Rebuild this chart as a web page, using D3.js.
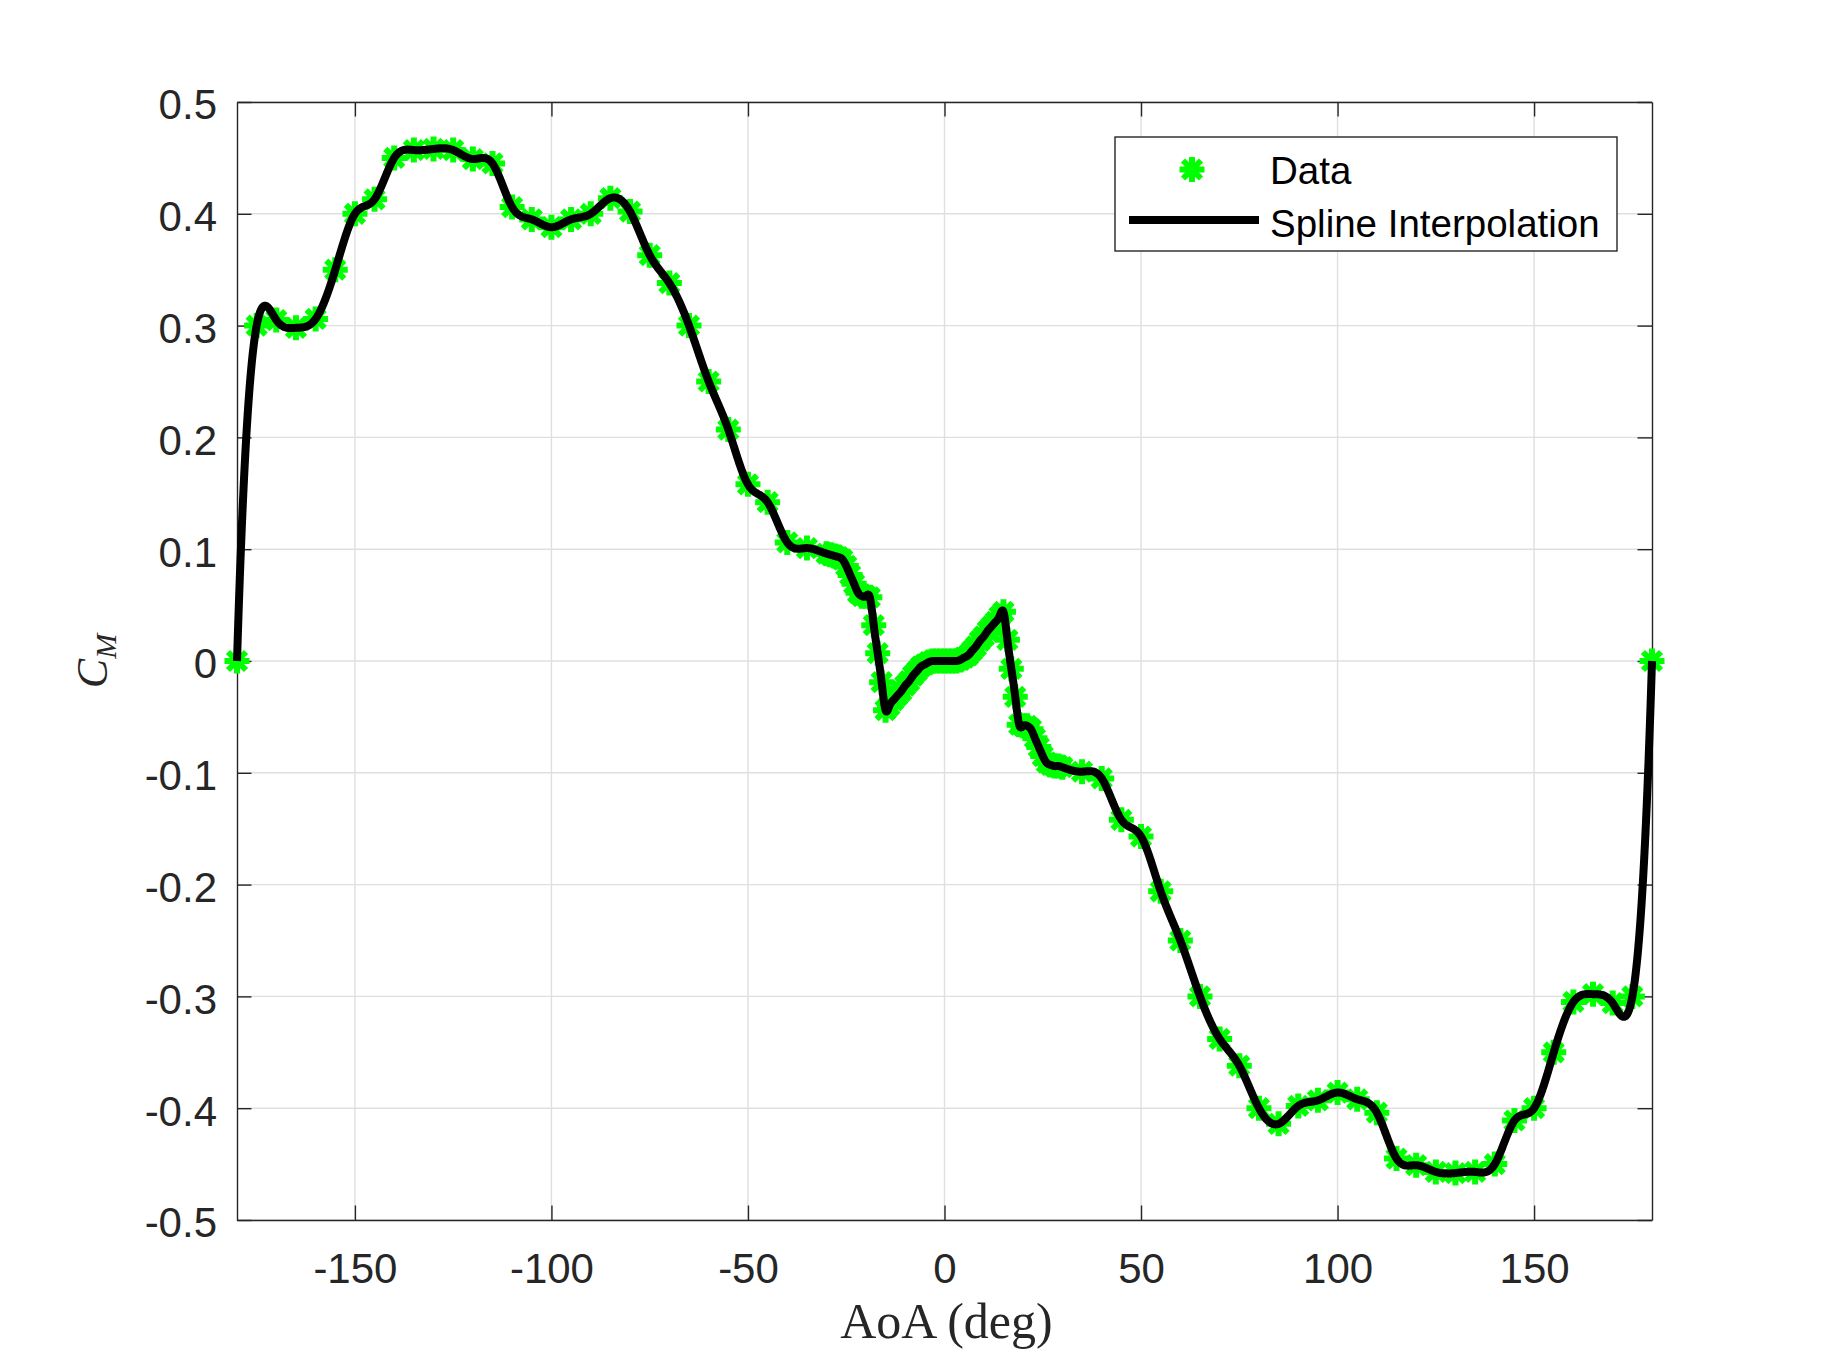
<!DOCTYPE html>
<html>
<head>
<meta charset="utf-8">
<script src="https://cdn.jsdelivr.net/npm/d3@7"></script>
<style>
  html, body { margin: 0; padding: 0; background: #fff; }
  svg { display: block; }
</style>
</head>
<body>
<div id="chart"></div>
<script>
// Pitching moment coefficient vs angle of attack (data points + spline through them)

const aoaDeg = [
  -180, -175, -170, -165, -160, -155, -150, -145, -140, -135, -130, -125, -120, -115, -110,
  -105, -100, -95, -90, -85, -80, -75, -70, -65, -60, -55, -50, -45, -40, -35,
  -30, -29, -28, -27, -26, -25, -24, -23, -22, -21, -20, -19, -18, -17, -16, -15,
  -14, -13, -12, -11, -10, -9, -8, -7, -6, -5, -4, -3, -2, -1, 0,
  1, 2, 3, 4, 5, 6, 7, 8, 9, 10, 11, 12, 13, 14, 15,
  16, 17, 18, 19, 20, 21, 22, 23, 24, 25, 26, 27, 28, 29, 30,
  35, 40, 45, 50, 55, 60, 65, 70, 75, 80, 85, 90, 95, 100, 105,
  110, 115, 120, 125, 130, 135, 140, 145, 150, 155, 160, 165, 170, 175, 180
];

const cmData = [
  0, 0.300, 0.305, 0.298, 0.306, 0.350, 0.400, 0.413, 0.450, 0.457, 0.458, 0.457, 0.449, 0.445, 0.406,
  0.395, 0.388, 0.395, 0.400, 0.414, 0.402, 0.363, 0.338, 0.300, 0.250, 0.207, 0.158, 0.142, 0.106, 0.101,
  0.096, 0.095, 0.094, 0.093, 0.091, 0.085, 0.077, 0.069, 0.061, 0.058, 0.058, 0.057, 0.032, 0.007, -0.019, -0.044,
  -0.040, -0.035, -0.031, -0.027, -0.022, -0.018, -0.013, -0.009, -0.005, -0.003, -0.001, 0.000, 0.000, 0.000, 0.000,
  0.000, 0.000, 0.000, 0.001, 0.003, 0.005, 0.009, 0.013, 0.018, 0.022, 0.027, 0.031, 0.035, 0.040, 0.044,
  0.019, -0.007, -0.032, -0.057, -0.058, -0.058, -0.061, -0.069, -0.077, -0.085, -0.091, -0.093, -0.094, -0.094, -0.095,
  -0.099, -0.105, -0.142, -0.157, -0.206, -0.250, -0.300, -0.338, -0.362, -0.400, -0.414, -0.398, -0.393, -0.386, -0.392,
  -0.404, -0.445, -0.451, -0.457, -0.458, -0.457, -0.450, -0.411, -0.400, -0.350, -0.305, -0.298, -0.306, -0.300, 0
];

const xTicks = [-150, -100, -50, 0, 50, 100, 150];
const yTicks = [-0.5, -0.4, -0.3, -0.2, -0.1, 0, 0.1, 0.2, 0.3, 0.4, 0.5];
const legendLabels = ["Data", "Spline Interpolation"];

const width = 1827;
const height = 1370;
const margin = { left: 237, right: 1827 - 1652, top: 102, bottom: 1370 - 1220 };

const axisColor = "#262626";
const gridColor = "#dfdfdf";
const green = "#00ff00";
const sansFont = "'Liberation Sans', Arial, Helvetica, sans-serif";
const serifFont = "'Liberation Serif', 'Times New Roman', serif";

// not-a-knot cubic spline (like MATLAB spline)
function buildSpline(xs, ys) {
    const n = xs.length;
    const h = d3.range(n - 1).map(i => xs[i + 1] - xs[i]);
    const A = Array.from({ length: n }, () => new Float64Array(n));
    const b = new Float64Array(n);

    A[0][0] = h[1]; A[0][1] = -(h[0] + h[1]); A[0][2] = h[0];
    for (let i = 1; i < n - 1; i++) {
        A[i][i - 1] = h[i - 1];
        A[i][i] = 2 * (h[i - 1] + h[i]);
        A[i][i + 1] = h[i];
        b[i] = 6 * ((ys[i + 1] - ys[i]) / h[i] - (ys[i] - ys[i - 1]) / h[i - 1]);
    }
    A[n - 1][n - 3] = h[n - 2]; A[n - 1][n - 2] = -(h[n - 3] + h[n - 2]); A[n - 1][n - 1] = h[n - 3];

    // gaussian elimination, partial pivoting
    for (let k = 0; k < n; k++) {
        let p = k;
        for (let r = k + 1; r < n; r++) if (Math.abs(A[r][k]) > Math.abs(A[p][k])) p = r;
        if (p !== k) { [A[p], A[k]] = [A[k], A[p]]; [b[p], b[k]] = [b[k], b[p]]; }
        for (let r = k + 1; r < n; r++) {
            const f = A[r][k] / A[k][k];
            if (f === 0) continue;
            for (let c = k; c < n; c++) A[r][c] -= f * A[k][c];
            b[r] -= f * b[k];
        }
    }
    const M = new Float64Array(n);
    for (let k = n - 1; k >= 0; k--) {
        let s = b[k];
        for (let c = k + 1; c < n; c++) s -= A[k][c] * M[c];
        M[k] = s / A[k][k];
    }

    return x => {
        let i = d3.bisectRight(xs, x) - 1;
        i = Math.max(0, Math.min(n - 2, i));
        const hi = h[i], a = xs[i + 1] - x, c = x - xs[i];
        return M[i] * a * a * a / (6 * hi) + M[i + 1] * c * c * c / (6 * hi)
            + (ys[i] / hi - M[i] * hi / 6) * a + (ys[i + 1] / hi - M[i + 1] * hi / 6) * c;
    };
}

const spline = buildSpline(aoaDeg, cmData);
const fineX = d3.range(-1800, 1801).map(k => k / 10);
const splinePoints = fineX.map(x => ({ x: x, y: spline(x) }));

const svg = d3.select("#chart").append("svg")
    .attr("width", width)
    .attr("height", height)
    .attr("viewBox", `0 0 ${width} ${height}`);

svg.append("rect").attr("width", width).attr("height", height).attr("fill", "#fff");

const x = d3.scaleLinear().domain([-180, 180]).range([margin.left, width - margin.right]);
const y = d3.scaleLinear().domain([-0.5, 0.5]).range([height - margin.bottom, margin.top]);

// grid
svg.append("g").selectAll("line.gx")
    .data(xTicks).join("line")
    .attr("x1", d => x(d)).attr("x2", d => x(d))
    .attr("y1", y(-0.5)).attr("y2", y(0.5))
    .attr("stroke", gridColor).attr("stroke-width", 1.4);

svg.append("g").selectAll("line.gy")
    .data(yTicks).join("line")
    .attr("x1", x(-180)).attr("x2", x(180))
    .attr("y1", d => y(d)).attr("y2", d => y(d))
    .attr("stroke", gridColor).attr("stroke-width", 1.4);

// axes with inward ticks on all four sides
const tickLen = 14.5;
const fmtY = d => d === 0 ? "0" : d3.format(".1f")(d).replace("−", "-");

const bottomAxis = svg.append("g")
    .attr("transform", `translate(0,${y(-0.5)})`)
    .call(d3.axisBottom(x).tickValues(xTicks).tickSizeInner(-tickLen).tickSizeOuter(0).tickPadding(30)
        .tickFormat(d => String(d)));
svg.append("g")
    .attr("transform", `translate(0,${y(0.5)})`)
    .call(d3.axisTop(x).tickValues(xTicks).tickSizeInner(-tickLen).tickSizeOuter(0).tickFormat(""));
const leftAxis = svg.append("g")
    .attr("transform", `translate(${x(-180)},0)`)
    .call(d3.axisLeft(y).tickValues(yTicks).tickSizeInner(-tickLen).tickSizeOuter(0).tickPadding(20)
        .tickFormat(fmtY));
svg.append("g")
    .attr("transform", `translate(${x(180)},0)`)
    .call(d3.axisRight(y).tickValues(yTicks).tickSizeInner(-tickLen).tickSizeOuter(0).tickFormat(""));

svg.selectAll(".domain").attr("stroke", axisColor).attr("stroke-width", 1.4);
svg.selectAll(".tick line").attr("stroke", axisColor).attr("stroke-width", 1.4);
svg.selectAll(".tick text")
    .attr("fill", axisColor)
    .style("font-family", sansFont)
    .style("font-size", "42px");
bottomAxis.selectAll(".tick text").attr("dy", null).attr("y", 1283 - y(-0.5));
leftAxis.selectAll(".tick text").attr("dy", "0.4em");

// data markers (asterisk)
const star = "M-12.5,0H12.5M0,-12.5V12.5M-9,-9L9,9M-9,9L9,-9";
svg.append("g").selectAll("path")
    .data(aoaDeg.map((a, i) => ({ x: a, y: cmData[i] })))
    .join("path")
    .attr("transform", d => `translate(${x(d.x)},${y(d.y)})`)
    .attr("d", star)
    .attr("fill", "none")
    .attr("stroke", green)
    .attr("stroke-width", 6);

// spline line on top
const line = d3.line().x(d => x(d.x)).y(d => y(d.y));
svg.append("path")
    .datum(splinePoints)
    .attr("d", line)
    .attr("fill", "none")
    .attr("stroke", "#000")
    .attr("stroke-width", 8)
    .attr("stroke-linejoin", "round");

// axis labels
svg.append("text")
    .attr("x", x(0) + 2).attr("y", 1338)
    .attr("text-anchor", "middle")
    .attr("fill", axisColor)
    .style("font-family", serifFont)
    .style("font-size", "50px")
    .text("AoA (deg)");

const yLabel = svg.append("text")
    .attr("transform", `translate(107,${y(0)}) rotate(-90)`)
    .attr("text-anchor", "middle")
    .attr("fill", axisColor)
    .style("font-family", serifFont)
    .style("font-style", "italic")
    .style("font-size", "44px");
yLabel.append("tspan").text("C");
yLabel.append("tspan").attr("dy", 9).style("font-size", "30px").text("M");

// legend
const legend = svg.append("g");
legend.append("rect")
    .attr("x", 1115).attr("y", 137)
    .attr("width", 1617 - 1115).attr("height", 251 - 137)
    .attr("fill", "#fff")
    .attr("stroke", axisColor)
    .attr("stroke-width", 1.4);
legend.append("path")
    .attr("transform", "translate(1192,169.5)")
    .attr("d", star)
    .attr("fill", "none")
    .attr("stroke", green)
    .attr("stroke-width", 6);
legend.append("line")
    .attr("x1", 1129).attr("x2", 1259)
    .attr("y1", 220).attr("y2", 220)
    .attr("stroke", "#000").attr("stroke-width", 8);
legend.selectAll("text.lab")
    .data(legendLabels)
    .join("text")
    .attr("x", 1270)
    .attr("y", (d, i) => i === 0 ? 184 : 236.5)
    .attr("fill", "#000")
    .style("font-family", sansFont)
    .style("font-size", "38.5px")
    .text(d => d);
</script>
</body>
</html>
